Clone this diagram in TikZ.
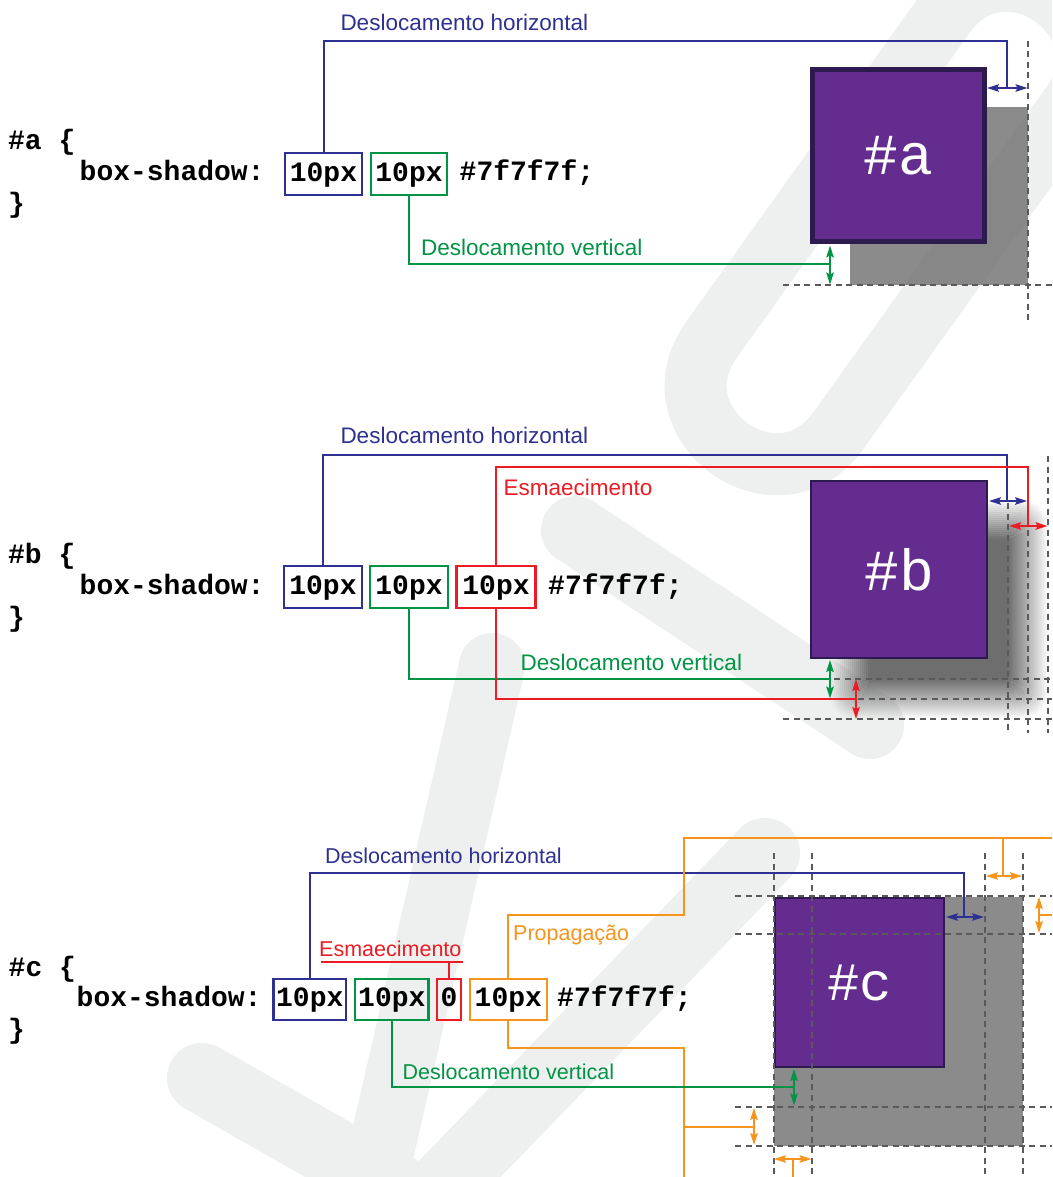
\documentclass[tikz,border=0pt]{standalone}
\usepackage{fontspec}
\setmainfont{Liberation Sans}
\newfontfamily\codefont{Liberation Mono}
\usetikzlibrary{arrows.meta}
\definecolor{cblue}{HTML}{2E3192}
\definecolor{cgreen}{HTML}{009444}
\definecolor{cred}{HTML}{ED1C24}
\definecolor{corange}{HTML}{F7941D}
\definecolor{purp}{HTML}{632C8E}
\definecolor{purpdark}{HTML}{2D1A4E}
\definecolor{shad}{HTML}{5C5B5C}
\definecolor{shadb}{HTML}{6E6E6E}
\definecolor{dgray}{HTML}{5A5A5A}
\definecolor{wm}{HTML}{EDF0EE}
\tikzset{
  conn/.style={line width=2pt},
  dbl/.style={line width=1.5pt, {Stealth[length=12pt,width=7.5pt,inset=2pt]}-{Stealth[length=12pt,width=7.5pt,inset=2pt]}},
  dline/.style={draw=dgray, line width=1.8pt, dash pattern=on 6pt off 4.5pt},
  code/.style={font=\codefont\bfseries\fontsize{28}{32}\selectfont, inner sep=0pt, anchor=base west},
  vbox/.style={draw, line width=2.2pt, inner sep=0pt, minimum height=42pt, text height=20.5pt, text depth=5.5pt, font=\codefont\bfseries\fontsize{28}{32}\selectfont},
  lblab/.style={font=\fontsize{22.5}{26}\selectfont, inner sep=0pt, anchor=base west},
  lblc/.style={font=\fontsize{21.5}{25}\selectfont, inner sep=0pt, anchor=base west},
  elem/.style={fill=purp, inner sep=0pt, text=white, font=\codefont\fontsize{58}{60}\selectfont},
  wmark/.style={draw=wm, line cap=round, line join=round},
  shadowfill/.style={fill=shad, fill opacity=0.7},
}
\begin{document}
\begin{tikzpicture}[x=1pt,y=-1pt]
\useasboundingbox (0,0) rectangle (1052,1177);
\fill[white] (0,0) rectangle (1052,1177);
% watermark
\begin{scope}
\clip (0,0) rectangle (1052,1177);
\draw[wmark, line width=62pt] (944.6,14.5) -- (711.6,339.5) .. controls (651,424.1) and (777.8,515.1) .. (838.4,430.5) -- (1071.4,105.5) .. controls (1132,20.9) and (1005.2,-70.1) .. cycle;
\draw[wmark, line width=68pt] (575,530) -- (870,725);
\draw[wmark, line width=66pt] (492,666) -- (370,1200);
\draw[wmark, line width=70pt] (202,1078) -- (425,1205) -- (765,853);
\end{scope}

% ---------- section a ----------
\fill[shadowfill] (850,107) rectangle (1028,285);
\node[elem, draw=purpdark, line width=5pt, minimum size=172pt] (boxA) at (898.5,155.5) {\#a};
\draw[dline] (1028,41) -- (1028,320);
\draw[dline] (783,285) -- (1052,285);

\node[code] (a1) at (8,149.5) {\#a \{};
\node[code] (a2) at (79.5,181) {box-shadow:};
\node[code] (a3) at (8,212.5) {\}};
\node[vbox, draw=cblue, minimum width=76.8pt] (bA) at (323.5,173.8) {10px};
\node[vbox, draw=cgreen, minimum width=75.8pt] (gA) at (409,173.8) {10px};
\node[code] (a4) at (459.5,181) {\#7f7f7f;};

\node[lblab, text=cblue] (hA) at (340.3,30.5) {Deslocamento horizontal};
\node[lblab, text=cgreen] (vA) at (421,255.5) {Deslocamento vertical};

\draw[conn, cblue] (bA.north) |- (1007,41) -- (1007,88);
\draw[dbl, cblue] (987,88) -- (1027.5,88);
\draw[conn, cgreen] (gA.south) |- (830,264.3);
\draw[dbl, cgreen] (830,245.5) -- (830,284.5);

% ---------- section b ----------
\foreach \k in {0,...,19}{
  \pgfmathsetmacro\eo{20-2*\k}
  \pgfmathsetmacro\ei{18-2*\k}
  \pgfmathsetmacro\ro{max(0.01,(\eo+20)*0.6)}
  \pgfmathsetmacro\ri{max(0.01,(\ei+20)*0.6)}
  \pgfmathsetmacro\op{(\k+0.5)/20}
  \fill[shadb, fill opacity=\op, even odd rule] [rounded corners=\ro pt] (850-\eo,520-\eo) rectangle (1028+\eo,699+\eo) [rounded corners=\ri pt] (850-\ei,520-\ei) rectangle (1028+\ei,699+\ei);
}
\fill[shadb] (870,540) rectangle (1008,679);
\node[elem, draw=purpdark, line width=2pt, minimum width=176pt, minimum height=177pt] (boxB) at (899,569.5) {\#b};

\draw[dline] (1008,503) -- (1008,733);
\draw[dline] (1028,530) -- (1028,733);
\draw[dline] (1048,456) -- (1048,733);
\draw[dline] (834,679) -- (1052,679);
\draw[dline] (858,699) -- (1052,699);
\draw[dline] (783,719) -- (1052,719);

\node[code] (b1) at (8,563.5) {\#b \{};
\node[code] (b2) at (79.5,594.5) {box-shadow:};
\node[code] (b3) at (8,626.5) {\}};
\node[vbox, draw=cblue, minimum width=77.5pt] (bB) at (323,587) {10px};
\node[vbox, draw=cgreen, minimum width=77.5pt] (gB) at (409,587) {10px};
\node[vbox, draw=cred, minimum width=79pt] (rB) at (496,587) {10px};
\node[code] (b4) at (548,594.5) {\#7f7f7f;};

\node[lblab, text=cblue] (hB) at (340.3,443.5) {Deslocamento horizontal};
\node[lblab, text=cred] (eB) at (503.5,495.5) {Esmaecimento};
\node[lblab, text=cgreen] (vB) at (520.5,670) {Deslocamento vertical};

\draw[conn, cblue] (bB.north) |- (1007,455) -- (1007,501);
\draw[dbl, cblue] (989,501) -- (1027,501);
\draw[conn, cred] (rB.north) |- (1028,467) -- (1028,526);
\draw[dbl, cred] (1009,526) -- (1047.5,526);
\draw[conn, cgreen] (gB.south) |- (830,679);
\draw[dbl, cgreen] (830,660) -- (830,698.5);
\draw[conn, cred] (rB.south) |- (856,699);
\draw[dbl, cred] (856,679) -- (856,719);

% ---------- section c ----------
\fill[shadowfill] (774,897) rectangle (1023,1146);
\node[elem, draw=purpdark, line width=2pt, minimum size=169pt, font=\codefont\fontsize{54}{56}\selectfont] (boxC) at (859.5,982.5) {\#c};

\foreach \xx in {774,812,985,1023}{\draw[dline] (\xx,853) -- (\xx,1177);}
\foreach \yy in {896,934,1107,1146}{\draw[dline] (735,\yy) -- (1052,\yy);}

\node[code] (c1) at (8.5,976) {\#c \{};
\node[code] (c2) at (76.5,1006.7) {box-shadow:};
\node[code] (c3) at (8,1038) {\}};
\node[vbox, draw=cblue, minimum width=72.8pt, minimum height=40.8pt] (bC) at (309.8,999.2) {10px};
\node[vbox, draw=cgreen, minimum width=73.3pt, minimum height=40.8pt] (gC) at (391.8,999.2) {10px};
\node[vbox, draw=cred, minimum width=24pt, minimum height=40.8pt] (rC) at (448.9,999.2) {0};
\node[vbox, draw=corange, minimum width=76.8pt, minimum height=40.8pt] (oC) at (508.3,999.2) {10px};
\node[code] (c4) at (557,1006.7) {\#7f7f7f;};

\node[lblc, text=cblue] (hC) at (325,863) {Deslocamento horizontal};
\node[lblc, text=cred] (eC) at (319,956.5) {Esmaecimento};
\node[lblc, text=corange] (pC) at (513,940) {Propagação};
\node[lblc, text=cgreen] (vC) at (402.5,1079) {Deslocamento vertical};

\draw[conn, cblue] (bC.north) |- (964,873) -- (964,917);
\draw[dbl, cblue] (946,917) -- (984,917);
\draw[conn, cred] (320.5,962) -- (463,962);
\draw[conn, cred] (rC.north) -- (rC.north |- 0,962);
\draw[conn, corange] (oC.north) |- (684,915) -- (684,838) -- (1052,838);
\draw[conn, corange] (1003,838) -- (1003,876);
\draw[dbl, corange] (986,876) -- (1022,876);
\draw[conn, corange] (1052,915) -- (1039,915);
\draw[dbl, corange] (1039,897) -- (1039,933);
\draw[conn, corange] (oC.south) |- (684,1048) -- (684,1177);
\draw[conn, corange] (684,1127) -- (754,1127);
\draw[dbl, corange] (754,1108) -- (754,1145);
\draw[conn, corange] (793,1177) -- (793,1159);
\draw[dbl, corange] (774,1159) -- (811.5,1159);
\draw[conn, cgreen] (gC.south) |- (794,1086.5);
\draw[dbl, cgreen] (794,1069) -- (794,1105.5);
\end{tikzpicture}
\end{document}
